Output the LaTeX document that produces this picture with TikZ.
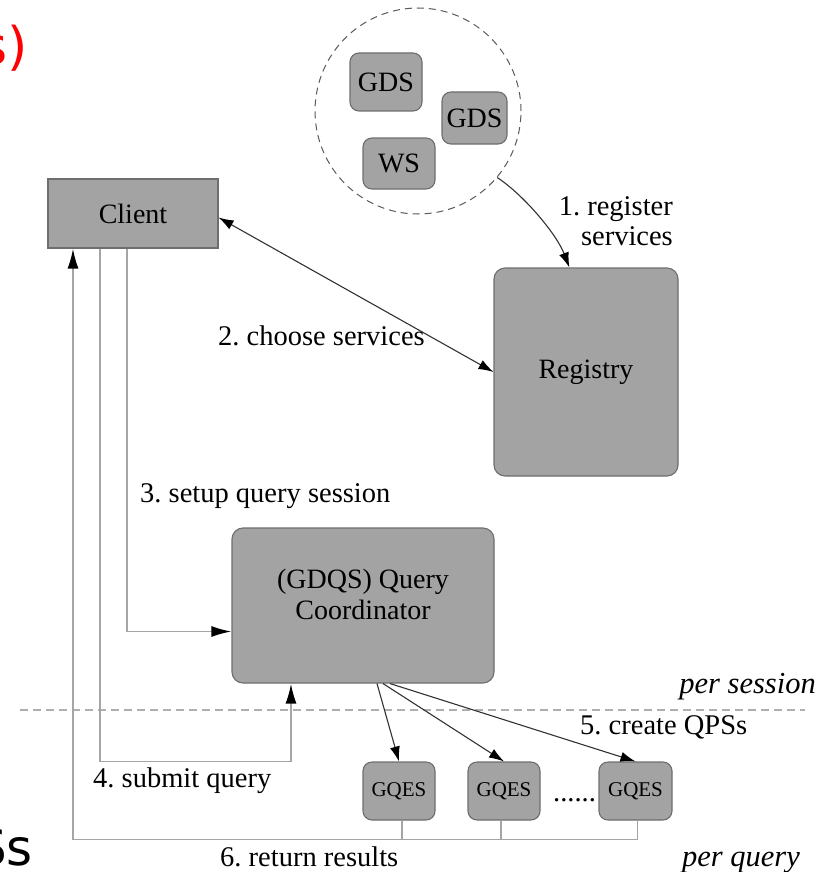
\documentclass[tikz,border=0pt]{standalone}
\usepackage{fontspec}
\setmainfont{Liberation Serif}
\newfontfamily\slidefont{DejaVu Sans}
\usetikzlibrary{arrows.meta,calc}
\frenchspacing
\definecolor{boxfill}{RGB}{163,163,163}
\definecolor{boxline}{RGB}{110,110,110}
\definecolor{flowgray}{RGB}{165,165,165}
\definecolor{darkline}{RGB}{50,50,50}
\definecolor{sepgray}{RGB}{175,175,175}
\definecolor{circgray}{RGB}{90,90,90}
\tikzset{
  boxnode/.style={draw=boxline, fill=boxfill, line width=1.1pt, inner sep=0pt, font=\fontsize{28}{31}\selectfont},
  rboxnode/.style={boxnode, rounded corners=9pt},
  gqesfont/.style={font=\fontsize{21}{23}\selectfont},
  lbl/.style={inner sep=0pt, font=\fontsize{28.5}{30}\selectfont},
  ital/.style={inner sep=0pt, font=\fontsize{30.5}{32}\selectfont\itshape},
  flow/.style={draw=flowgray, line width=1.8pt},
  flowarrow/.style={flow, -{Latex[length=20pt,width=11pt,color=black]}},
  darkarrow/.style={draw=darkline, line width=1.1pt, -{Latex[length=15pt,width=10pt,color=black]}},
  sepline/.style={draw=sepgray, line width=1.5pt, dash pattern=on 8pt off 5pt},
}
\begin{document}
\begin{tikzpicture}[x=1pt,y=-1pt]
\useasboundingbox (0,0) rectangle (824,872);

% separator
\coordinate (sepL) at (20,710);
\coordinate (sepR) at (805,710);
\draw[sepline] (sepL) -- (sepR);

% services cloud
\node[circle, draw=circgray, dash pattern=on 7pt off 5pt, line width=1pt, minimum size=206pt, inner sep=0pt] (cloud) at (418,111) {};
\node[rboxnode, minimum width=72pt, minimum height=58pt] (gds1) at (386,82) {GDS};
\node[rboxnode, minimum width=65pt, minimum height=52pt] (gds2) at (474.5,118) {GDS};
\node[rboxnode, minimum width=72pt, minimum height=51pt] (ws) at (399,163.5) {WS};

% main boxes
\node[boxnode, minimum width=170pt, minimum height=69pt] (client) at (133,213.5) {Client};
\node[rboxnode, rounded corners=11pt, minimum width=184pt, minimum height=208pt] (reg) at (586,372) {Registry};
\node[rboxnode, rounded corners=11pt, minimum width=262pt, minimum height=155pt, align=center] (gdqs) at (363,605.5) {(GDQS) Query\\Coordinator\\[-8pt]};

% GQES boxes
\node[rboxnode, gqesfont, minimum width=72pt, minimum height=58pt] (q1) at (399,791) {GQES};
\node[rboxnode, gqesfont, minimum width=72pt, minimum height=58pt] (q2) at (504,791) {GQES};
\node[rboxnode, gqesfont, minimum width=73pt, minimum height=58pt] (q3) at (635.5,791) {GQES};
\node[lbl, anchor=base west] (dots) at (553,801) {......};

% labels
\node[lbl, anchor=base east] (l1a) at (673,215) {1. register};
\node[lbl, anchor=base east] (l1b) at (673,245) {services};
\node[lbl, anchor=base west] (l2) at (218,345) {2. choose services};
\node[lbl, anchor=base west] (l3) at (140,502) {3. setup query session};
\node[lbl, anchor=base west] (l4) at (93,787) {4. submit query};
\node[lbl, anchor=base west] (l5) at (580,734) {5. create QPSs};
\node[lbl, anchor=base west] (l6) at (220,866) {6. return results};
\node[ital, anchor=base east] (ps) at (816,693) {per session};
\node[ital, anchor=base east] (pq) at (800,866) {per query};

% slide fragments (cut at the picture's edge, as in the reference)
\node[inner sep=0pt, anchor=base east, text=red, font=\slidefont\fontsize{52}{52}\selectfont] (frag1) at (28,65) {s)};
\node[inner sep=0pt, anchor=base east, font=\slidefont\fontsize{50}{50}\selectfont] (frag2) at (33,865) {Ss};

% 1. register services
\draw[darkarrow] (cloud.-40) .. controls (525,196) and (557,235) .. ($(reg.north west)!0.41!(reg.north east)$);
% 2. choose services
\draw[darkarrow, {Latex[length=15pt,width=10pt,color=black]}-{Latex[length=15pt,width=10pt,color=black]}] ([yshift=-4pt]client.east) -- (reg.west);
% 3. setup query session
\draw[flowarrow] ([xshift=-6pt]client.south) |- ([yshift=-26pt]gdqs.west);
% 4. submit query
\draw[flowarrow] ([xshift=-33pt]client.south) -- ++(0,513) -| ([xshift=-72pt]gdqs.south);
% 5. create QPSs
\draw[darkarrow] ([xshift=14pt]gdqs.south) -- (q1.north);
\draw[darkarrow] ([xshift=20pt]gdqs.south) -- (q2.north);
\draw[darkarrow] ([xshift=27pt]gdqs.south) -- (q3.north);
% 6. return results
\draw[flow] ([xshift=3pt]q1.south) -- ++(0,19);
\draw[flow] ([xshift=-3pt]q2.south) -- ++(0,19);
\draw[flowarrow] ([xshift=2pt]q3.south) -- ++(0,19) -| ([xshift=-60pt]client.south);
\end{tikzpicture}
\end{document}
